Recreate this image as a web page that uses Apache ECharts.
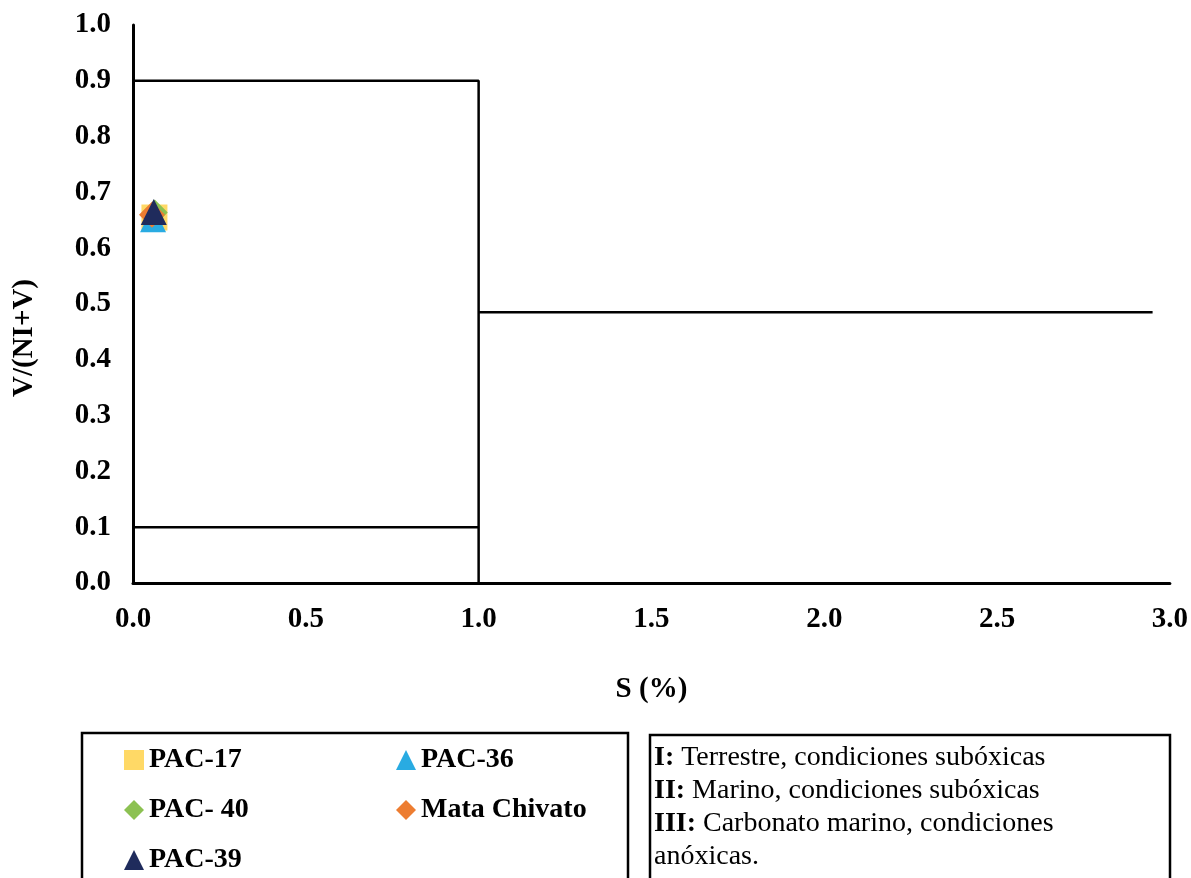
<!DOCTYPE html>
<html>
<head>
<meta charset="utf-8">
<script src="https://cdn.jsdelivr.net/npm/echarts@6/dist/echarts.min.js"></script>
<style>
  html, body { margin: 0; padding: 0; background: #fff; }
  #chart { width: 1191px; height: 878px; }
</style>
</head>
<body>
<div id="chart"></div>
<script>
// sample points, S (%) vs V/(NI+V)
const pac17 = [[0.062, 0.655]]
const pac36 = [[0.058, 0.652]]
const pac40 = [[0.063, 0.664]]
const mataChivato = [[0.055, 0.66]]
const pac39 = [[0.06, 0.665]]

// field boundaries
const boxOuter = [[0, 0.9], [1, 0.9], [1, 0]]
const boxInner = [[0, 0.1], [1, 0.1]]
const marineLine = [[1, 0.485], [2.95, 0.485]]

const fieldNotes = [
  ['I:', ' Terrestre, condiciones subóxicas'],
  ['II:', ' Marino, condiciones subóxicas'],
  ['III:', ' Carbonato marino, condiciones'],
  ['', 'anóxicas.'],
]

const serif = '"Liberation Serif", "Times New Roman", serif'
const chart = echarts.init(document.getElementById('chart'))

function pointSeries(name, data, symbol, color) {
  return {
    name, type: 'scatter', data, symbol, symbolSize: 26,
    itemStyle: { color, opacity: 1 },
    z: 5,
  }
}
function boundary(data) {
  return {
    type: 'line', data, symbol: 'none', silent: true,
    lineStyle: { color: '#000', width: 2.5 },
    z: 3,
  }
}
const legendText = { fontFamily: serif, fontWeight: 'bold', fontSize: 28, color: '#000', lineHeight: 28 }

chart.setOption({
  animation: false,
  textStyle: { fontFamily: serif },
  grid: { left: 133, right: 20, top: 25, bottom: 295 },
  xAxis: {
    type: 'value', min: 0, max: 3, interval: 0.5,
    name: 'S (%)', nameLocation: 'middle', nameGap: 92,
    nameTextStyle: { fontFamily: serif, fontWeight: 'bold', fontSize: 29, color: '#000' },
    axisLine: { lineStyle: { color: '#000', width: 3 } },
    axisTick: { show: false },
    splitLine: { show: false },
    axisLabel: {
      margin: 22, fontFamily: serif, fontWeight: 'bold', fontSize: 29, color: '#000',
      formatter: v => v.toFixed(1),
    },
  },
  yAxis: {
    type: 'value', min: 0, max: 1, interval: 0.1,
    axisLine: { show: true, onZero: false, lineStyle: { color: '#000', width: 3 } },
    axisTick: { show: false },
    splitLine: { show: false },
    axisLabel: {
      margin: 22, fontFamily: serif, fontWeight: 'bold', fontSize: 29, color: '#000',
      formatter: v => v.toFixed(1),
    },
  },
  legend: [
    {
      orient: 'vertical', left: 124, top: 746, itemGap: 22, padding: 0,
      itemWidth: 20, itemHeight: 20, textStyle: legendText,
      data: ['PAC-17', 'PAC- 40', 'PAC-39'],
    },
    {
      orient: 'vertical', left: 396, top: 746, itemGap: 22, padding: 0,
      itemWidth: 20, itemHeight: 20, textStyle: legendText,
      data: ['PAC-36', 'Mata Chivato'],
    },
  ],
  graphic: [
    {
      type: 'text', x: 25, y: 338, rotation: Math.PI / 2,
      style: {
        text: 'V/(NI+V)', font: 'bold 29px ' + serif, fill: '#000',
        align: 'center', verticalAlign: 'middle',
      },
    },
    {
      type: 'rect', shape: { x: 82, y: 733, width: 546, height: 160 },
      style: { fill: 'none', stroke: '#000', lineWidth: 2.5 },
    },
    {
      type: 'rect', shape: { x: 650, y: 735, width: 520, height: 160 },
      style: { fill: 'none', stroke: '#000', lineWidth: 2.5 },
    },
    {
      type: 'text', x: 654, y: 741,
      style: {
        text: fieldNotes.map(([b, t]) => (b ? '{b|' + b + '}' : '') + '{n|' + t + '}').join('\n'),
        rich: {
          b: { fontFamily: serif, fontWeight: 'bold', fontSize: 28, lineHeight: 33, fill: '#000' },
          n: { fontFamily: serif, fontSize: 28, lineHeight: 33, fill: '#000' },
        },
      },
    },
  ],
  series: [
    boundary(boxOuter),
    boundary(boxInner),
    boundary(marineLine),
    pointSeries('PAC-17', pac17, 'rect', '#FFD966'),
    pointSeries('PAC-36', pac36, 'triangle', '#29ABE2'),
    pointSeries('PAC- 40', pac40, 'diamond', '#8CC152'),
    pointSeries('Mata Chivato', mataChivato, 'diamond', '#ED7D31'),
    pointSeries('PAC-39', pac39, 'triangle', '#1F2B5C'),
  ],
})
</script>
</body>
</html>
